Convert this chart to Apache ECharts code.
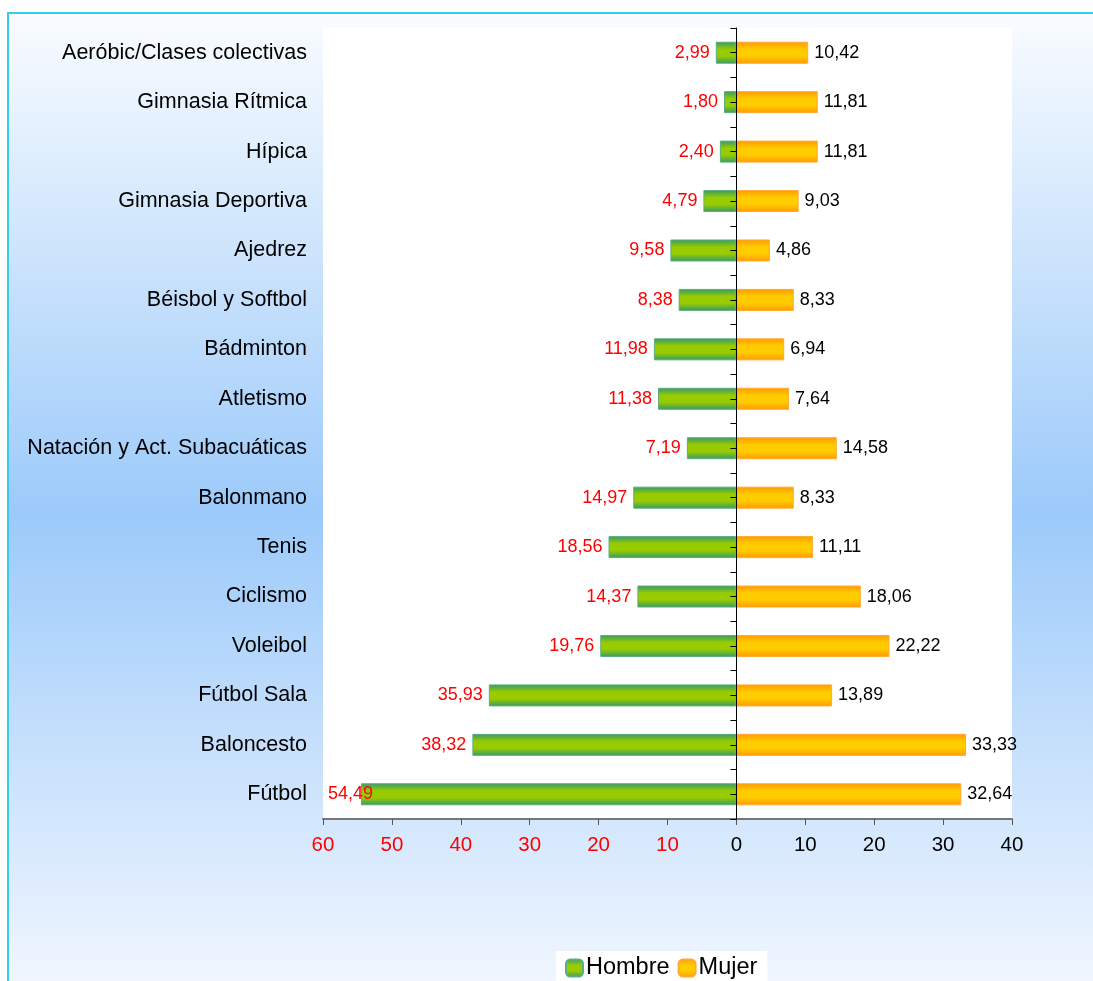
<!DOCTYPE html>
<html>
<head>
<meta charset="utf-8">
<script src="https://cdn.jsdelivr.net/npm/echarts@6/dist/echarts.min.js"></script>
<style>
  html, body { margin: 0; padding: 0; background: #fff; }
  #main { width: 1093px; height: 981px; }
</style>
</head>
<body>
<div id="main"></div>
<script>
// categorias de arriba a abajo
var deportes = [
  "Aeróbic/Clases colectivas", "Gimnasia Rítmica", "Hípica", "Gimnasia Deportiva",
  "Ajedrez", "Béisbol y Softbol", "Bádminton", "Atletismo",
  "Natación y Act. Subacuáticas", "Balonmano", "Tenis", "Ciclismo",
  "Voleibol", "Fútbol Sala", "Baloncesto", "Fútbol"
];
var hombre = [2.99, 1.80, 2.40, 4.79, 9.58, 8.38, 11.98, 11.38, 7.19, 14.97, 18.56, 14.37, 19.76, 35.93, 38.32, 54.49];
var mujer = [10.42, 11.81, 11.81, 9.03, 4.86, 8.33, 6.94, 7.64, 14.58, 8.33, 11.11, 18.06, 22.22, 13.89, 33.33, 32.64];
var ejeMin = -60;
var ejeMax = 40;
var ejePaso = 10;

function coma(v) {
  return Math.abs(v).toFixed(2).replace(".", ",");
}

var grad = function (borde, centro) {
  return new echarts.graphic.LinearGradient(0, 0, 0, 1, [
    { offset: 0, color: borde },
    { offset: 0.35, color: centro },
    { offset: 0.65, color: centro },
    { offset: 1, color: borde }
  ]);
};

var datosHombre = hombre.map(function (v, i) {
  var item = { value: -v };
  // el ultimo no cabe a la izquierda, se mete dentro de la barra
  if (v > 50) {
    item.label = { position: "insideLeft", distance: 5, offset: [-38, 0] };
  }
  return item;
});

// eje de medias bandas solo para las marcas del eje vertical (limites y centros)
var medias = [];
deportes.forEach(function (d, i) {
  medias.push(i + "a", i + "b");
});

var myChart = echarts.init(document.getElementById("main"));

var option = {
  animation: false,
  graphic: [
    {
      type: "rect",
      z: -10,
      silent: true,
      shape: { x: 8, y: 13, width: 1100, height: 1000 },
      style: {
        fill: new echarts.graphic.LinearGradient(0, 0, 0, 1, [
          { offset: 0, color: "#fafcff" },
          { offset: 0.5, color: "#9ccafa" },
          { offset: 1, color: "#f6f9ff" }
        ]),
        stroke: "#33ccee",
        lineWidth: 2
      }
    }
  ],
  grid: {
    left: 323,
    right: 81,
    top: 28,
    bottom: 162,
    show: true,
    backgroundColor: "#ffffff",
    borderWidth: 0
  },
  legend: {
    left: 556,
    top: 951,
    backgroundColor: "#ffffff",
    padding: [5, 10, 8, 9],
    itemWidth: 17,
    itemHeight: 17,
    itemGap: 8,
    textStyle: { fontFamily: "Liberation Sans, Arial", fontSize: 23.5, color: "#000", padding: [0, 0, 0, -2] },
    data: ["Hombre", "Mujer"]
  },
  xAxis: {
    type: "value",
    min: ejeMin,
    max: ejeMax,
    interval: ejePaso,
    splitLine: { show: false },
    axisLine: { show: true, lineStyle: { color: "#777", width: 2 } },
    axisTick: { show: true, length: 6, lineStyle: { color: "#555", width: 1 } },
    axisLabel: {
      margin: 16,
      fontFamily: "Liberation Sans, Arial",
      fontSize: 20.5,
      color: function (v) {
        return v < 0 ? "#ff0000" : "#000000";
      },
      formatter: function (v) {
        return Math.abs(v);
      }
    }
  },
  yAxis: [
    {
      type: "category",
      inverse: true,
      position: "left",
      z: 5,
      data: medias,
      axisLine: { onZero: true, lineStyle: { color: "#000", width: 1 } },
      axisTick: { show: true, interval: 0, length: 6, lineStyle: { color: "#000" } },
      axisLabel: { show: false }
    },
    {
      type: "category",
      inverse: true,
      position: "left",
      data: deportes,
      axisLine: { show: false, onZero: false },
      axisTick: { show: false },
      axisLabel: {
        margin: 16,
        fontFamily: "Liberation Sans, Arial",
        fontSize: 21.5,
        color: "#000"
      }
    }
  ],
  series: [
    {
      name: "Hombre",
      type: "bar",
      stack: "total",
      yAxisIndex: 1,
      barWidth: 22,
      data: datosHombre,
      itemStyle: {
        color: grad("#339966", "#99cc00"),
        borderColor: "#5aae80",
        borderWidth: 1
      },
      label: {
        show: true,
        position: "left",
        distance: 6,
        color: "#ff0000",
        fontFamily: "Liberation Sans, Arial",
        fontSize: 18,
        formatter: function (p) { return coma(p.value); }
      }
    },
    {
      name: "Mujer",
      type: "bar",
      stack: "total",
      yAxisIndex: 1,
      barWidth: 22,
      data: mujer,
      itemStyle: {
        color: grad("#ff9900", "#ffcc00"),
        borderColor: "#ffaa33",
        borderWidth: 1
      },
      label: {
        show: true,
        position: "right",
        distance: 6,
        color: "#000000",
        fontFamily: "Liberation Sans, Arial",
        fontSize: 18,
        formatter: function (p) { return coma(p.value); }
      }
    }
  ]
};

myChart.setOption(option);
</script>
</body>
</html>
